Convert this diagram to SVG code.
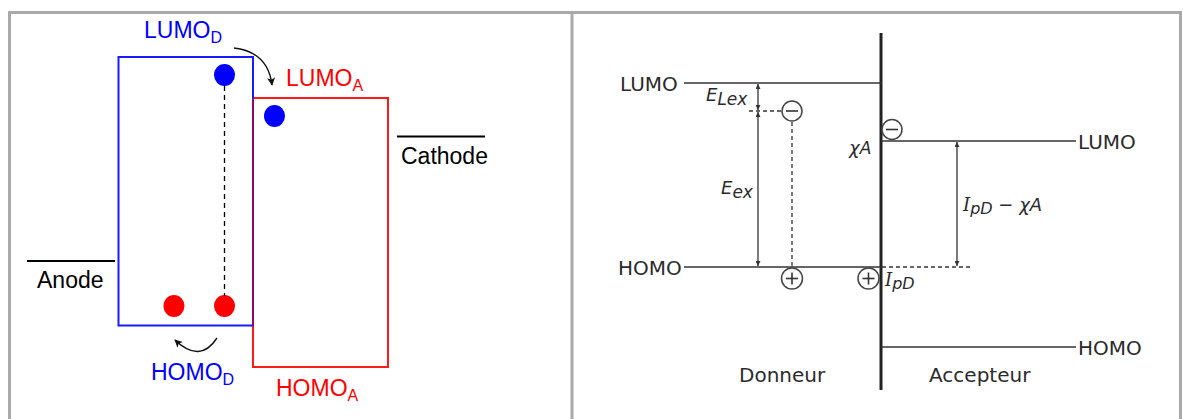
<svg xmlns="http://www.w3.org/2000/svg" width="1183" height="419" viewBox="0 0 1183 419">
<defs>
<style>
.frame{fill:none;stroke:#aaaaaa;stroke-width:3}
.lbl{font-family:"Liberation Sans",Arial,sans-serif;font-size:23px}
.rl{font-family:"DejaVu Sans",Verdana,sans-serif;font-size:20px;fill:#2b2b2b}
.it{font-family:"DejaVu Sans",Verdana,sans-serif;font-style:italic;font-size:18px;fill:#2b2b2b}
.ser{font-family:"DejaVu Serif","Liberation Serif",serif;font-style:italic}
.lvl{stroke:#333;stroke-width:1.5;fill:none}
.dash{stroke:#333;stroke-width:1.3;stroke-dasharray:4,3;fill:none}
.dim{stroke:#333;stroke-width:1.3;fill:none;marker-start:url(#ah2);marker-end:url(#ah2)}
.chg{fill:#fff;stroke:#444;stroke-width:1.5}
.sign{stroke:#333;stroke-width:1.6}
.curv{fill:none;stroke:#111;stroke-width:1.4;marker-end:url(#ah1)}
</style>
<marker id="ah1" viewBox="0 0 10 10" refX="9" refY="5" markerWidth="9" markerHeight="8" orient="auto" markerUnits="userSpaceOnUse">
<path d="M0,0 L10,5 L0,10 L2.5,5 z" fill="#111"/>
</marker>
<marker id="ah2" viewBox="0 0 10 10" refX="10" refY="5" markerWidth="6" markerHeight="5" orient="auto-start-reverse" markerUnits="userSpaceOnUse">
<path d="M0,0 L10,5 L0,10 z" fill="#333"/>
</marker>
</defs>

<g id="frame">
<rect class="frame" x="9.5" y="12.5" width="1171" height="420"/>
<line class="frame" x1="572" y1="12" x2="572" y2="419"/>
</g>

<!-- Left panel -->
<g id="acceptor-box">
<rect x="253" y="98" width="135" height="269" fill="none" stroke="#ff1a1a" stroke-width="2"/>
</g>
<g id="donor-box">
<rect x="118.5" y="57" width="134.5" height="268.5" fill="none" stroke="#1a1aff" stroke-width="2"/>
<line x1="253" y1="98" x2="253" y2="325.5" stroke="#8a0a70" stroke-width="2"/>
</g>
<g id="anode">
<line x1="27" y1="261" x2="115" y2="261" stroke="#000" stroke-width="2"/>
<text class="lbl" x="37" y="288" fill="#000">Anode</text>
</g>
<g id="cathode">
<line x1="397" y1="136.5" x2="485" y2="136.5" stroke="#000" stroke-width="2"/>
<text class="lbl" x="401" y="164" fill="#000">Cathode</text>
</g>
<g id="electrons">
<ellipse cx="224.5" cy="75" rx="10.5" ry="11" fill="#0000ff"/>
<ellipse cx="274.5" cy="116" rx="10.5" ry="11" fill="#0000ff"/>
</g>
<g id="holes">
<ellipse cx="174" cy="306" rx="10.5" ry="11" fill="#ff0000"/>
<ellipse cx="224.5" cy="306" rx="10.5" ry="11" fill="#ff0000"/>
</g>
<g id="labels-left">
<text class="lbl" x="144" y="38" fill="#0000ff">LUMO<tspan font-size="16" dy="5">D</tspan></text>
<text class="lbl" x="286" y="86" fill="#ff0000">LUMO<tspan font-size="16" dy="5">A</tspan></text>
<text class="lbl" x="151" y="380" fill="#0000ff">HOMO<tspan font-size="16" dy="5">D</tspan></text>
<text class="lbl" x="276" y="396" fill="#ff0000">HOMO<tspan font-size="16" dy="5">A</tspan></text>
</g>

<!-- Right panel -->
<g id="interface">
<line x1="881" y1="33" x2="881" y2="390" stroke="#222" stroke-width="3"/>
</g>
<g id="donor-levels">
<line class="lvl" x1="684" y1="83" x2="881" y2="83"/>
<line class="lvl" x1="684" y1="267" x2="881" y2="267"/>
<text class="rl" x="620" y="91">LUMO</text>
<text class="rl" x="618" y="275">HOMO</text>
<text class="rl" x="739" y="382">Donneur</text>
</g>
<g id="acceptor-levels">
<line class="lvl" x1="881" y1="141" x2="1076" y2="141"/>
<line class="lvl" x1="881" y1="347" x2="1076" y2="347"/>
<text class="rl" x="1078" y="149">LUMO</text>
<text class="rl" x="1078" y="355">HOMO</text>
<text class="rl" x="929" y="382">Accepteur</text>
</g>

<g id="connectors">
<path class="curv" d="M234,48 Q268,52 272,85"/>
<path class="curv" d="M217,338 Q200,364 175,340"/>
<line x1="224.5" y1="86" x2="224.5" y2="296" stroke="#000" stroke-width="1.3" stroke-dasharray="5,4"/>
<line class="dim" x1="758" y1="84" x2="758" y2="110"/>
<line class="dim" x1="758" y1="112" x2="758" y2="266"/>
<line class="dash" x1="749" y1="111" x2="782" y2="111"/>
<line class="dash" x1="792" y1="122" x2="792" y2="267"/>
<line class="dim" x1="957" y1="142" x2="957" y2="266"/>
<line class="dash" x1="882" y1="267" x2="970" y2="267"/>
</g>

<g id="charges">
<circle class="chg" cx="792" cy="111" r="10"/>
<line class="sign" x1="786" y1="111" x2="798" y2="111"/>
<circle class="chg" cx="892" cy="129.5" r="10"/>
<line class="sign" x1="886" y1="129.5" x2="898" y2="129.5"/>
<circle class="chg" cx="792" cy="278.5" r="10.5"/>
<line class="sign" x1="786" y1="278.5" x2="798" y2="278.5"/>
<line class="sign" x1="792" y1="272.5" x2="792" y2="284.5"/>
<circle class="chg" cx="868.5" cy="278.5" r="10.5"/>
<line class="sign" x1="862.5" y1="278.5" x2="874.5" y2="278.5"/>
<line class="sign" x1="868.5" y1="272.5" x2="868.5" y2="284.5"/>
</g>

<g id="labels-right">
<text class="it" x="706" y="101" font-size="19">E<tspan font-size="17" dy="4">Lex</tspan></text>
<text class="it" x="721" y="194" font-size="19">E<tspan font-size="17" dy="4">ex</tspan></text>
<text class="it" x="849" y="154">χ<tspan font-size="17">A</tspan></text>
<text class="it" x="885" y="286"><tspan class="ser">I</tspan><tspan font-size="16" dy="3">pD</tspan></text>
<text class="it" x="963" y="211"><tspan class="ser">I</tspan><tspan font-size="16" dy="3">pD</tspan><tspan dy="-3"> − χA</tspan></text>
</g>
</svg>
